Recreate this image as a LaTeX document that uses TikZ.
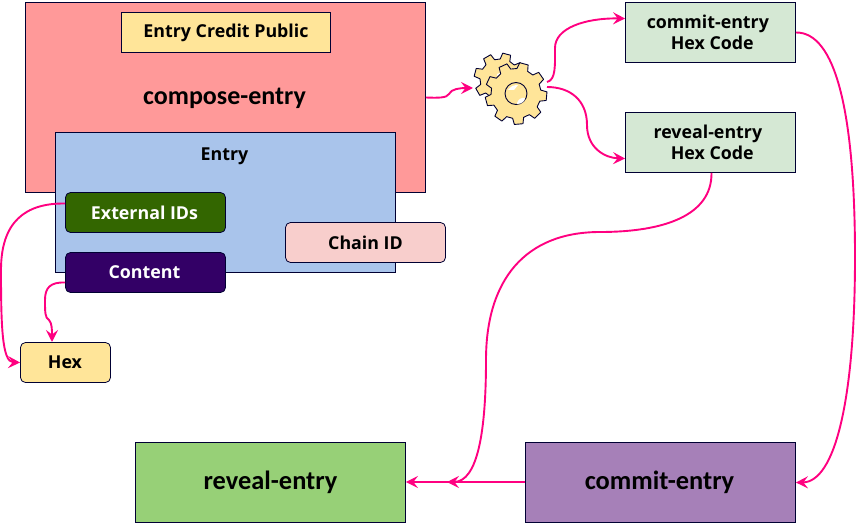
\documentclass[tikz,border=0pt]{standalone}
\usepackage{fontspec}
\setmainfont{Open Sans}
\newfontfamily\bigfont{Carlito}
\usetikzlibrary{arrows.meta}
\definecolor{edgeink}{HTML}{000033}
\definecolor{flow}{HTML}{FF0080}
\definecolor{redfill}{HTML}{FF9999}
\definecolor{bluefill}{HTML}{A9C4EB}
\definecolor{yellowfill}{HTML}{FFE599}
\definecolor{hexfill}{HTML}{D5E8D4}
\definecolor{greenfill}{HTML}{97D077}
\definecolor{purplefill}{HTML}{A680B8}
\definecolor{pinkfill}{HTML}{F8CECC}
\definecolor{extfill}{HTML}{336600}
\definecolor{contfill}{HTML}{330066}
\newcommand{\dn}[1]{\raisebox{-1pt}{#1}}
\tikzset{
  x=1pt,y=-1pt,
  box/.style={draw=edgeink,line width=0.8pt,inner sep=0pt,align=center,font=\bfseries\fontsize{17.8}{21}\selectfont,text=black},
  roundbox/.style={box,rounded corners=5pt},
  bigbox/.style={box,font=\bigfont\bfseries\fontsize{26.4}{28}\selectfont},
  flowline/.style={draw=flow,line width=1.9pt,-{Stealth[length=12pt,width=12pt,inset=4.5pt]}},
  gearshape/.style={draw=edgeink,line width=0.9pt,fill=yellowfill,line join=round},
}
\newcommand{\gearat}[6]{% cx cy router rroot teeth rot
  \pgfmathsetmacro{\st}{360/#5}
  \pgfmathsetmacro{\lastt}{#5-1}
  \draw[gearshape] ({#1+#4*cos(#6-0.32*\st)},{#2+#4*sin(#6-0.32*\st)})
    \foreach \k in {0,...,\lastt}{
      -- ({#1+#3*cos(#6+\k*\st-0.2*\st)},{#2+#3*sin(#6+\k*\st-0.2*\st)})
      -- ({#1+#3*cos(#6+\k*\st+0.2*\st)},{#2+#3*sin(#6+\k*\st+0.2*\st)})
      -- ({#1+#4*cos(#6+\k*\st+0.32*\st)},{#2+#4*sin(#6+\k*\st+0.32*\st)})
      -- ({#1+#4*cos(#6+\k*\st+0.68*\st)},{#2+#4*sin(#6+\k*\st+0.68*\st)})
    } -- cycle;
}
\begin{document}
\begin{tikzpicture}
\useasboundingbox (0,0) rectangle (857,524);
% boxes
\begin{scope}[shift={(0.5,0.5)}]
\node[box,fill=redfill,minimum width=400pt,minimum height=190pt] (compose) at (225,97) {};
\node[font=\bigfont\bfseries\fontsize{26}{28}\selectfont] (composetitle) at (224,98) {compose-entry};
\node[box,fill=yellowfill,minimum width=209pt,minimum height=40pt] (credit) at (225.5,32) {\dn{Entry Credit Public}};
\node[box,fill=bluefill,minimum width=340pt,minimum height=140pt] (entry) at (225,202) {};
\node[font=\bfseries\fontsize{17.8}{21}\selectfont] (entrytitle) at (224,155.5) {Entry};
\node[roundbox,fill=extfill,text=white,minimum width=160pt,minimum height=40pt] (ext) at (145,212) {\hspace*{-2pt}\dn{External IDs}};
\node[roundbox,fill=contfill,text=white,minimum width=160pt,minimum height=40pt] (cont) at (145,272) {\hspace*{-2pt}\dn{Content}};
\node[roundbox,fill=pinkfill,minimum width=160pt,minimum height=40pt] (chain) at (365,242) {\dn{Chain ID}};
\node[roundbox,fill=yellowfill,minimum width=90pt,minimum height=40pt] (hex) at (65,362) {\hspace*{-1pt}\dn{Hex}};
\node[box,fill=hexfill,minimum width=170pt,minimum height=60pt] (commithex) at (710,32) {\hspace*{-0.3em}commit-entry\\\hspace*{0.2em}Hex Code};
\node[box,fill=hexfill,minimum width=170pt,minimum height=60pt] (revealhex) at (710,142) {\hspace*{-0.3em}reveal-entry\\\hspace*{0.2em}Hex Code};
\node[bigbox,fill=greenfill,minimum width=270pt,minimum height=80pt] (reveal) at (270,482) {\dn{reveal-entry}};
\node[bigbox,fill=purplefill,minimum width=270pt,minimum height=80pt] (commit) at (660,482) {\hspace*{-2pt}\dn{commit-entry}};
\end{scope}
% gears
\gearat{500}{79}{26}{20}{8}{15}
\fill[white] (497,74) -- (503,72) -- (503,78) -- (498,78) -- cycle;
\gearat{516}{93.5}{31}{25}{9}{5}
\draw[gearshape] (516,93.5) circle (11);
\fill[white] (508,90) .. controls (511,86) and (514,85) .. (518,85) -- (514,90) -- cycle;
\fill[white] (517,103) .. controls (518,100) and (521,97) .. (525,98) .. controls (525,101) and (522,104) .. (517,104) -- cycle;
\coordinate (gearin) at (473,88);
\coordinate (gearouta) at (547,82);
\coordinate (gearoutb) at (547,87);
\coordinate (joina) at ([yshift=14pt]commithex.west);
\coordinate (joinb) at ([yshift=-16pt]revealhex.west);
\coordinate (merge) at (447,482);
\coordinate (contout) at ([yshift=-10pt]cont.west);
\coordinate (extout) at ([yshift=9pt]ext.west);
\coordinate (revealout) at ([xshift=1pt]revealhex.south);
% connectors
\draw[flowline] (compose.east) .. controls (438,98) and (447,98) .. (449,94) .. controls (451,89) and (460,88) .. (gearin);
\draw[flowline] (gearouta) .. controls (556,80) and (555,65) .. (555,48) .. controls (555,28) and (585,18) .. (joina);
\draw[flowline] (gearoutb) .. controls (570,87) and (587,100) .. (587,125) .. controls (587,148) and (605,158) .. (joinb);
\draw[flowline] (commithex.east) .. controls (835,32) and (855,110) .. (855,257) .. controls (855,400) and (835,482) .. (commit.east);
\draw[flowline] (revealout) .. controls (712,215) and (665,232) .. (600,232) .. controls (525,232) and (486,280) .. (486,360) .. controls (486,430) and (478,482) .. (merge);
\draw[flowline] ([yshift=0.5pt]commit.west) -- ([yshift=0.5pt]reveal.east);
\draw[flowline] (extout) .. controls (25,203) and (1,222) .. (1,270) .. controls (1,325) and (2,362) .. (hex.west);
\draw[flowline] (contout) .. controls (50,282) and (45,288) .. (45,300) .. controls (45,312) and (45,318) .. (49,320) .. controls (52,323) and (52,330) .. (52,342);
\end{tikzpicture}
\end{document}
